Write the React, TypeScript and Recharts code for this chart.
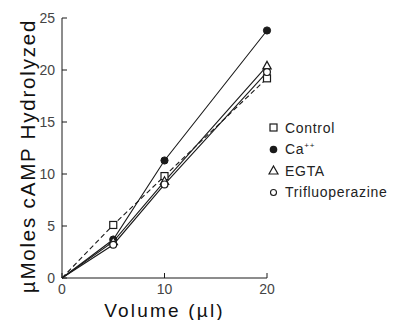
import React from 'react';
import { LineChart, Line, XAxis, YAxis } from 'recharts';

// volume in µl
const volumes = [0, 5, 10, 20];

// µMoles cAMP hydrolyzed
const control = [0, 5.1, 9.8, 19.2];
const calcium = [0, 3.7, 11.3, 23.8];
const egta = [0, 3.5, 9.3, 20.4];
const trifluoperazine = [0, 3.2, 9.0, 19.8];

const xTicks = [0, 10, 20];
const yTicks = [0, 5, 10, 15, 20, 25];

const data = volumes.map((v, i) => ({
    volume: v,
    control: control[i],
    calcium: calcium[i],
    egta: egta[i],
    trifluoperazine: trifluoperazine[i],
}));

const INK = '#1a1a1a';
const FONT = '"Liberation Sans", Arial, sans-serif';

const Square = (props: any) => {
    const { cx, cy } = props;
    if (cx == null || cy == null || props.payload?.volume === 0) return <g />;
    return <rect x={cx - 3.5} y={cy - 3.5} width={7} height={7} fill="#fff" stroke={INK} strokeWidth={1.2} />;
};

const Dot = (props: any) => {
    const { cx, cy } = props;
    if (cx == null || cy == null || props.payload?.volume === 0) return <g />;
    return <circle cx={cx} cy={cy} r={3.6} fill={INK} stroke={INK} />;
};

const Triangle = (props: any) => {
    const { cx, cy } = props;
    if (cx == null || cy == null || props.payload?.volume === 0) return <g />;
    return (
        <path
            d={`M${cx},${cy - 4.5} L${cx + 4.2},${cy + 3} L${cx - 4.2},${cy + 3} Z`}
            fill="#fff"
            stroke={INK}
            strokeWidth={1.2}
        />
    );
};

const Ring = (props: any) => {
    const { cx, cy } = props;
    if (cx == null || cy == null || props.payload?.volume === 0) return <g />;
    return <circle cx={cx} cy={cy} r={3.4} fill="#fff" stroke={INK} strokeWidth={1.2} />;
};

const legendItems = [
    { name: 'Control', kind: 'square' },
    { name: 'Ca', sup: '++', kind: 'dot' },
    { name: 'EGTA', kind: 'triangle' },
    { name: 'Trifluoperazine', kind: 'ring' },
];

const LegendIcon = ({ kind }: { kind: string }) => {
    if (kind === 'square') return <rect x={2} y={3} width={7} height={7} fill="#fff" stroke={INK} strokeWidth={1.2} />;
    if (kind === 'dot') return <circle cx={5.5} cy={6.5} r={3.8} fill={INK} />;
    if (kind === 'triangle') return <path d="M5.5,2 L10,10 L1,10 Z" fill="#fff" stroke={INK} strokeWidth={1.2} />;
    return <circle cx={5.5} cy={6.5} r={3} fill="#fff" stroke={INK} strokeWidth={1.1} />;
};

const LegendBox = () => (
    <div style={{ fontFamily: FONT, fontSize: 14, color: '#222', letterSpacing: 0.7 }}>
        {legendItems.map(item => (
            <div key={item.name} style={{ display: 'flex', alignItems: 'center', height: 21.5 }}>
                <svg width={12} height={13} style={{ marginRight: 5 }}>
                    <LegendIcon kind={item.kind} />
                </svg>
                <span>
                    {item.name}
                    {item.sup && <sup style={{ fontSize: 8 }}>{item.sup}</sup>}
                </span>
            </div>
        ))}
    </div>
);

const App = () => {
    return (
        <div style={{ position: 'absolute', left: 0, top: 0, width: 395, height: 320, background: '#fff' }}>
            <LineChart width={395} height={320} data={data} margin={{ top: 18, right: 128, bottom: 0, left: 0 }}>
                <XAxis
                    dataKey="volume"
                    type="number"
                    domain={[0, 20]}
                    ticks={xTicks}
                    height={42}
                    stroke={INK}
                    tickSize={-5}
                    tickMargin={11}
                    tick={{ fill: '#444', fontSize: 14, fontFamily: FONT }}
                    label={{
                        value: 'Volume (µl)',
                        position: 'insideBottom',
                        offset: 3,
                        style: { fill: '#111', fontSize: 19, fontFamily: FONT, letterSpacing: 2.2 },
                    }}
                />
                <YAxis
                    type="number"
                    domain={[0, 25]}
                    ticks={yTicks}
                    width={62}
                    stroke={INK}
                    tickSize={-5}
                    tickMargin={12}
                    tick={{ fill: '#444', fontSize: 14, fontFamily: FONT }}
                    label={{
                        content: () => (
                            <text
                                x={27}
                                y={156}
                                transform="rotate(-90 27 156)"
                                textAnchor="middle"
                                dominantBaseline="central"
                                fill="#111"
                                fontSize={20.5}
                                letterSpacing={1.8}
                                fontFamily={FONT}
                            >
                                µMoles cAMP Hydrolyzed
                            </text>
                        ),
                    }}
                />
                <Line dataKey="control" stroke={INK} strokeWidth={1.1} strokeDasharray="5 3" dot={<Square />} isAnimationActive={false} />
                <Line dataKey="calcium" stroke={INK} strokeWidth={1.1} dot={<Dot />} isAnimationActive={false} />
                <Line dataKey="egta" stroke={INK} strokeWidth={1.1} dot={<Triangle />} isAnimationActive={false} />
                <Line dataKey="trifluoperazine" stroke={INK} strokeWidth={1.1} dot={<Ring />} isAnimationActive={false} />
            </LineChart>
            <div style={{ position: 'absolute', left: 268, top: 117 }}>
                <LegendBox />
            </div>
        </div>
    );
};

export default App;
